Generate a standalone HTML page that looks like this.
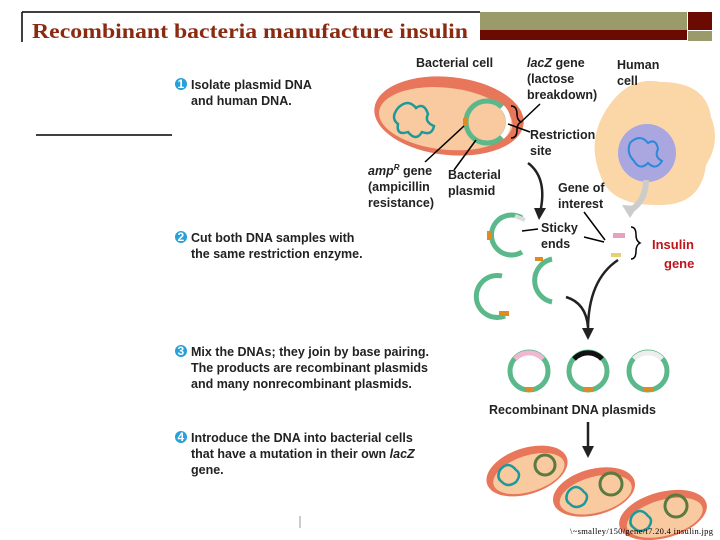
<!DOCTYPE html>
<html><head><meta charset="utf-8"><style>
body{margin:0;background:#fff;}
svg{display:block;font-family:"Liberation Sans",sans-serif;}
.t{font-size:12.5px;font-weight:bold;fill:#222;}
.n{font-size:12px;fill:#fff;font-weight:bold;}
</style></head><body>
<svg width="720" height="540" viewBox="0 0 720 540" xmlns="http://www.w3.org/2000/svg">
<line x1="22" y1="12" x2="480" y2="12" stroke="#000" stroke-width="1.5"/>
<line x1="22" y1="12" x2="22" y2="42" stroke="#000" stroke-width="1.5"/>
<rect x="480" y="12" width="207" height="18" fill="#9a9a6a"/>
<rect x="480" y="30" width="207" height="10" fill="#6b0a00"/>
<rect x="688" y="12" width="24" height="18" fill="#6b0a00"/>
<rect x="688" y="31" width="24" height="10" fill="#9a9a6a"/>
<text x="32" y="38" font-family="Liberation Serif,serif" font-size="21" font-weight="bold" fill="#8b2a10" textLength="436" lengthAdjust="spacingAndGlyphs">Recombinant bacteria manufacture insulin</text>
<line x1="36" y1="135" x2="172" y2="135" stroke="#000" stroke-width="1.5"/>

<g>
<circle cx="181" cy="84" r="6" fill="#29a0d8"/><text class="n" x="177.5" y="88" font-size="10">1</text>
<text class="t" x="191" y="89">Isolate plasmid DNA</text>
<text class="t" x="191" y="105">and human DNA.</text>
<circle cx="181" cy="237" r="6" fill="#29a0d8"/><text class="n" x="177.5" y="241" font-size="10">2</text>
<text class="t" x="191" y="242">Cut both DNA samples with</text>
<text class="t" x="191" y="258">the same restriction enzyme.</text>
<circle cx="181" cy="351" r="6" fill="#29a0d8"/><text class="n" x="177.5" y="355" font-size="10">3</text>
<text class="t" x="191" y="356" textLength="238">Mix the DNAs; they join by base pairing.</text>
<text class="t" x="191" y="372" textLength="237">The products are recombinant plasmids</text>
<text class="t" x="191" y="388">and many nonrecombinant plasmids.</text>
<circle cx="181" cy="437" r="6" fill="#29a0d8"/><text class="n" x="177.5" y="441" font-size="10">4</text>
<text class="t" x="191" y="442">Introduce the DNA into bacterial cells</text>
<text class="t" x="191" y="458">that have a mutation in their own <tspan font-style="italic">lacZ</tspan></text>
<text class="t" x="191" y="474">gene.</text>
</g>

<!-- human cell -->
<path d="M606 110 q22 -35 55 -28 q45 0 50 35 q10 25 -5 48 q-5 42 -50 40 q-45 0 -55 -28 q-15 -35 5 -67z" fill="#fbd7a8"/>
<circle cx="647" cy="153" r="29" fill="#a9a6e0"/>
<path d="M630 143 q10 -10 18 0 q8 -5 10 6 q-4 8 4 12 q-6 10 -14 2 q-8 8 -14 -2 q-8 -8 -4 -18z" fill="none" stroke="#2a8ad8" stroke-width="2"/>
<path d="M646 180 q0 20 -15 30" fill="none" stroke="#ccc" stroke-width="6"/>
<polygon points="622,205 638,206 630,218" fill="#ccc"/>

<text class="t" x="416" y="67">Bacterial cell</text>
<text class="t" x="527" y="67"><tspan font-style="italic">lacZ</tspan> gene</text>
<text class="t" x="527" y="83">(lactose</text>
<text class="t" x="527" y="99">breakdown)</text>
<text class="t" x="617" y="69">Human</text>
<text class="t" x="617" y="85">cell</text>

<g transform="rotate(6 449 116)">
<ellipse cx="449" cy="116" rx="75" ry="39" fill="#e8765a"/>
<ellipse cx="446" cy="119" rx="67" ry="31" fill="#f9c9a0"/>
</g>
<path d="M398 108 q10 -10 18 0 q8 -6 12 6 q-4 8 6 12 q-2 10 -12 6 q-6 10 -14 0 q-12 4 -10 -8 q-8 -6 0 -16z" fill="none" stroke="#1a9a9a" stroke-width="2.5"/>
<circle cx="487" cy="122" r="21" fill="none" stroke="#5bb88a" stroke-width="5"/>
<path d="M502 107 a21 21 0 0 1 0 30" fill="none" stroke="#fff" stroke-width="5"/>
<rect x="463" y="118" width="5" height="8" fill="#e08a20"/>
<path d="M511 106 q6 0 6 8 q0 6 4 8 q-4 2 -4 8 q0 8 -6 8" fill="none" stroke="#000" stroke-width="1.5"/>
<line x1="521" y1="122" x2="540" y2="104" stroke="#000" stroke-width="1.5"/>
<line x1="508" y1="124" x2="530" y2="132" stroke="#000" stroke-width="1.5"/>
<text class="t" x="530" y="139">Restriction</text>
<text class="t" x="530" y="155">site</text>
<line x1="464" y1="126" x2="425" y2="162" stroke="#000" stroke-width="1.5"/>
<line x1="476" y1="140" x2="454" y2="170" stroke="#000" stroke-width="1.5"/>
<text class="t" x="368" y="175"><tspan font-style="italic">amp</tspan><tspan font-size="8" dy="-5" font-style="italic">R</tspan><tspan dy="5"> gene</tspan></text>
<text class="t" x="368" y="191">(ampicillin</text>
<text class="t" x="368" y="207">resistance)</text>
<text class="t" x="448" y="179">Bacterial</text>
<text class="t" x="448" y="195">plasmid</text>

<path d="M528 163 q20 15 12 50" fill="none" stroke="#222" stroke-width="2.5"/>
<polygon points="534,208 546,208 539,220" fill="#222"/>
<text class="t" x="558" y="192">Gene of</text>
<text class="t" x="558" y="208">interest</text>
<line x1="584" y1="212" x2="605" y2="240" stroke="#000" stroke-width="1.5"/>
<text class="t" x="541" y="232">Sticky</text>
<text class="t" x="541" y="248">ends</text>
<line x1="522" y1="231" x2="538" y2="229" stroke="#000" stroke-width="1.5"/>
<line x1="584" y1="237" x2="604" y2="242" stroke="#000" stroke-width="1.5"/>
<rect x="613" y="233" width="12" height="5" fill="#e8a0c0"/>
<rect x="611" y="253" width="10" height="4" fill="#e8d070"/>
<path d="M631 227 q5 0 5 8 q0 6 4 8 q-4 2 -4 8 q0 8 -5 8" fill="none" stroke="#000" stroke-width="1.5"/>
<text x="652" y="249" font-size="13" font-weight="bold" fill="#c0141c">Insulin</text>
<text x="664" y="268" font-size="13" font-weight="bold" fill="#c0141c">gene</text>

<path d="M522 218 A20 20 0 1 0 522 252" fill="none" stroke="#5bb88a" stroke-width="5"/>
<path d="M515 216 l10 4" stroke="#ddd" stroke-width="4"/>
<rect x="487" y="231" width="5" height="9" fill="#e08a20"/>
<path d="M502 276 A21 21 0 1 0 505 316" fill="none" stroke="#5bb88a" stroke-width="5"/>
<rect x="499" y="311" width="10" height="5" fill="#e08a20"/>
<path d="M552 259 A22 22 0 0 0 552 302" fill="none" stroke="#5bb88a" stroke-width="5"/>
<rect x="535" y="257" width="8" height="4" fill="#e08a20"/>
<path d="M618 260 q-30 20 -30 70" fill="none" stroke="#222" stroke-width="2.5"/>
<path d="M566 297 q20 6 22 30" fill="none" stroke="#222" stroke-width="2.5"/>
<polygon points="582,328 594,328 588,340" fill="#222"/>

<circle cx="529" cy="371" r="19" fill="none" stroke="#5bb88a" stroke-width="5"/>
<path d="M515 359 a19 19 0 0 1 28 0" fill="none" stroke="#f0b8d0" stroke-width="5"/>
<rect x="525" y="387" width="9" height="5" fill="#e08a20"/>
<circle cx="588" cy="371" r="19" fill="none" stroke="#5bb88a" stroke-width="5"/>
<path d="M574 359 a19 19 0 0 1 28 0" fill="none" stroke="#111" stroke-width="5"/>
<rect x="584" y="387" width="9" height="5" fill="#e08a20"/>
<circle cx="648" cy="371" r="19" fill="none" stroke="#5bb88a" stroke-width="5"/>
<path d="M634 359 a19 19 0 0 1 28 0" fill="none" stroke="#eee" stroke-width="5"/>
<rect x="644" y="387" width="9" height="5" fill="#e08a20"/>
<text class="t" x="489" y="414">Recombinant DNA plasmids</text>
<line x1="588" y1="422" x2="588" y2="448" stroke="#222" stroke-width="2.5"/>
<polygon points="582,446 594,446 588,458" fill="#222"/>

<g transform="rotate(-18 527 471)"><ellipse cx="527" cy="471" rx="42" ry="23" fill="#e8765a"/><ellipse cx="528" cy="474" rx="37" ry="18" fill="#f9c9a0"/></g>
<path d="M500 470 q8 -10 16 0 q6 4 0 12 q-8 6 -14 0 q-6 -4 -2 -12z" fill="none" stroke="#1a9a9a" stroke-width="2.5"/>
<circle cx="545" cy="465" r="10" fill="none" stroke="#5a7a40" stroke-width="3"/>
<g transform="rotate(-15 594 492)"><ellipse cx="594" cy="492" rx="42" ry="23" fill="#e8765a"/><ellipse cx="595" cy="495" rx="37" ry="18" fill="#f9c9a0"/></g>
<path d="M568 492 q8 -10 16 0 q6 4 0 12 q-8 6 -14 0 q-6 -4 -2 -12z" fill="none" stroke="#1a9a9a" stroke-width="2.5"/>
<circle cx="611" cy="484" r="11" fill="none" stroke="#5a7a40" stroke-width="3"/>
<g transform="rotate(-15 663 515)"><ellipse cx="663" cy="515" rx="45" ry="23" fill="#e8765a"/><ellipse cx="664" cy="518" rx="39" ry="18" fill="#f9c9a0"/></g>
<path d="M632 516 q8 -10 16 0 q6 4 0 12 q-8 6 -14 0 q-6 -4 -2 -12z" fill="none" stroke="#1a9a9a" stroke-width="2.5"/>
<circle cx="676" cy="506" r="11" fill="none" stroke="#5a7a40" stroke-width="3"/>
<text x="570" y="534" font-family="Liberation Serif,serif" font-size="8.5" fill="#000" textLength="143">\~smalley/150/gene/t7.20.4 insulin.jpg</text>
<line x1="300" y1="516" x2="300" y2="528" stroke="#bbb" stroke-width="1.5"/>
</svg>
</body></html>
